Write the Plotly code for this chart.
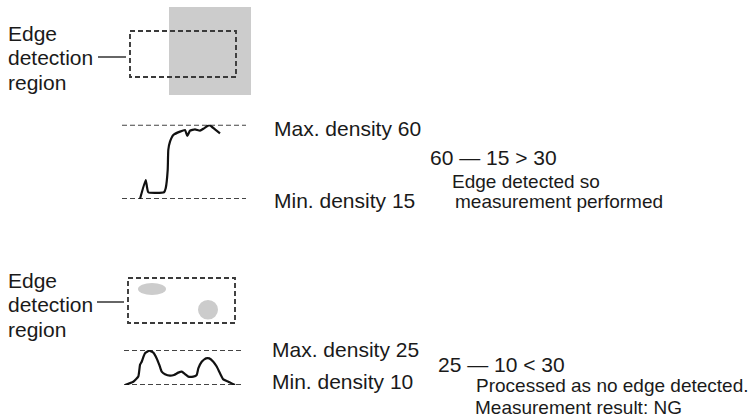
import plotly.graph_objects as go

# upper case: a real edge inside the detection region
edge_pos = [18, 23.7, 26.3, 42, 43.7, 45.7, 46.3, 48, 51.3, 58, 63, 65.3, 68, 73, 78, 82, 87.3, 93, 98]
edge_density = [15, 26.5, 19.1, 19.1, 21.5, 32.6, 44.7, 49.7, 53.8, 55.8, 56.8, 53.2, 56.4, 57.2, 56.4, 57.8, 59.8, 57.2, 54.8]
edge_max, edge_min = 60, 15

# lower case: only dirt spots inside the region
dirt_pos = [1, 9.3, 14.3, 16, 17.7, 21, 25.3, 29.3, 32.7, 35.3, 37.7, 41, 46, 50, 54.3, 57.7,
            61, 64.3, 69.3, 72.7, 74.3, 77.7, 82, 85.3, 89.3, 92.7, 96, 99.3, 104.3, 107.7, 111]
dirt_density = [10, 11.4, 13.6, 18.6, 20.0, 23.6, 24.7, 23.9, 21.4, 18.6, 15.7, 14.6, 14.0, 14.3, 15.3, 15.7,
                14.7, 13.6, 13.6, 14.3, 17.1, 20.0, 21.4, 21.4, 20.0, 17.9, 15.0, 12.4, 11.4, 10.7, 10]
dirt_max, dirt_min = 25, 10

threshold = 30
label_lines = ["Edge", "detection", "region"]

W, H = 754, 420
FONT = "Liberation Sans, Arial, sans-serif"
TXT = "#1a1a1a"
DASH = "5px,3px"

fig = go.Figure()

# density guide lines + profiles
for xa, ya, span, lo, hi, pos, dens in [("x2", "y2", 124, edge_min, edge_max, edge_pos, edge_density),
                                        ("x3", "y3", 119, dirt_min, dirt_max, dirt_pos, dirt_density)]:
    for lvl in (lo, hi):
        fig.add_trace(go.Scatter(x=[0, span], y=[lvl, lvl], mode="lines", xaxis=xa, yaxis=ya,
                                 line=dict(color="#444444", width=2, dash=DASH), hoverinfo="skip"))
    fig.add_trace(go.Scatter(x=pos, y=dens, mode="lines", xaxis=xa, yaxis=ya,
                             line=dict(color="#111111", width=2.2, shape="spline", smoothing=0.4),
                             hoverinfo="skip"))

shapes = [
    # upper region over the gray object
    dict(type="rect", x0=169, x1=251, y0=7, y1=95, fillcolor="#cccccc", line_width=0),
    dict(type="rect", x0=130, x1=236, y0=31, y1=77, line=dict(color="#3a3a3a", width=1.9, dash=DASH)),
    dict(type="line", x0=98, x1=126, y0=57, y1=57, line=dict(color="#333333", width=1.5)),
    # lower region with dirt
    dict(type="circle", x0=138, x1=166, y0=283, y1=295, fillcolor="#cccccc", line_width=0),
    dict(type="circle", x0=198, x1=218, y0=300, y1=319.5, fillcolor="#cccccc", line_width=0),
    dict(type="rect", x0=128, x1=235, y0=278, y1=323, line=dict(color="#3a3a3a", width=1.9, dash=DASH)),
    dict(type="line", x0=97, x1=124, y0=302, y1=302, line=dict(color="#333333", width=1.5)),
]
for s in shapes:
    s.update(xref="x", yref="y")
fig.update_layout(shapes=shapes)


def note(x, y, text, size=21):
    fig.add_annotation(x=x, y=y, xref="x", yref="y", text=text, showarrow=False,
                       xanchor="left", yanchor="middle", align="left",
                       font=dict(family=FONT, size=size, color=TXT))


for i, line in enumerate(label_lines):
    note(6, 33 + 24.5 * i, line)
    note(6, 280 + 24.5 * i, line)

note(272, 128, f"Max. density {edge_max}")
note(272, 200, f"Min. density {edge_min}")
note(428, 157, f"{edge_max} — {edge_min} > {threshold}")
note(450, 181, "Edge detected so", 19)
note(453, 201, "measurement performed", 19)

note(270, 349, f"Max. density {dirt_max}")
note(270, 381, f"Min. density {dirt_min}")
note(436, 364, f"{dirt_max} — {dirt_min} < {threshold}")
note(474, 385, "Processed as no edge detected.", 19)
note(473, 407, "Measurement result: NG", 19)

hidden = dict(visible=False, showgrid=False, zeroline=False, fixedrange=True)
fig.update_layout(
    width=W, height=H, autosize=False,
    margin=dict(l=0, r=0, t=0, b=0),
    paper_bgcolor="white", plot_bgcolor="white",
    showlegend=False,
    xaxis=dict(range=[0, W], domain=[0, 1], **hidden),
    yaxis=dict(range=[H, 0], domain=[0, 1], **hidden),
    xaxis2=dict(range=[0, 124], domain=[122 / W, 246 / W], anchor="y2", **hidden),
    yaxis2=dict(range=[edge_min, edge_max], domain=[1 - 199 / H, 1 - 124.7 / H], anchor="x2", **hidden),
    xaxis3=dict(range=[0, 119], domain=[124 / W, 243 / W], anchor="y3", **hidden),
    yaxis3=dict(range=[dirt_min, dirt_max], domain=[1 - 385 / H, 1 - 350 / H], anchor="x3", **hidden),
)

# drop the default page margin so the figure sits at the window's top-left corner
fig.write_html("out.html", config={"displayModeBar": False},
               post_script="document.body.style.margin='0';")
